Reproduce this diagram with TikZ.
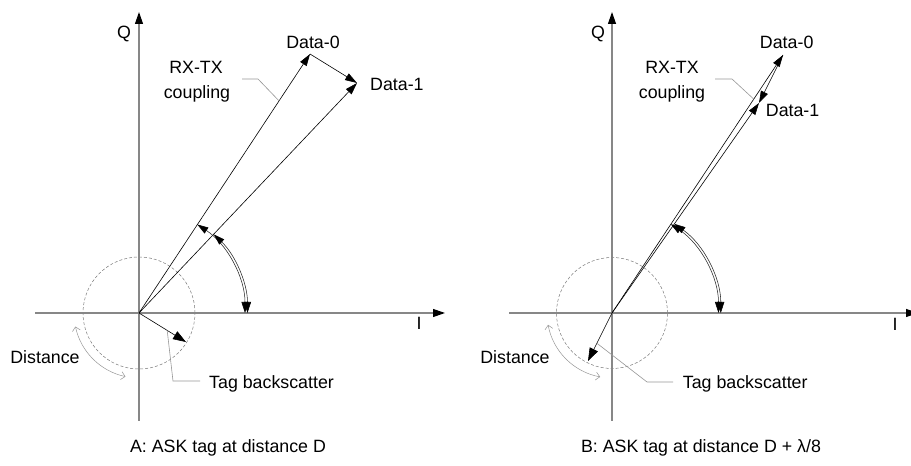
\documentclass[tikz,border=0pt]{standalone}
\usepackage{fontspec}
\setmainfont{Liberation Sans}
\usetikzlibrary{arrows.meta,calc}

\definecolor{axisgray}{RGB}{135,135,135}
\definecolor{leadgray}{RGB}{150,150,150}
\definecolor{circgray}{RGB}{120,120,120}

\tikzset{
  every node/.style={inner sep=0pt, font=\fontsize{17.8}{24}\selectfont},
  axisline/.style={draw=axisgray, line width=1.2pt,
    -{Triangle[length=12pt,width=8pt,color=black]}},
  vec/.style={draw=black, line width=0.6pt,
    -{Triangle[length=12pt,width=7.5pt]}},
  bsvec/.style={draw=black, line width=0.6pt,
    -{Triangle[length=13pt,width=9pt]}},
  anglearc/.style={draw=black!85, line width=0.55pt,
    {Triangle[length=11pt,width=7pt,color=black]}-{Triangle[length=11pt,width=7pt,color=black]}},
  distarc/.style={draw=leadgray, line width=0.5pt,
    {Straight Barb[length=4pt,width=8pt]}-{Straight Barb[length=4pt,width=8pt]}},
  leader/.style={draw=leadgray, line width=0.6pt},
  rangecircle/.style={draw=circgray, line width=0.5pt, dash pattern=on 3pt off 2pt},
}

\begin{document}
\begin{tikzpicture}[x=1pt,y=1pt]
\clip (0,0) rectangle (911,466);
\useasboundingbox (0,0) rectangle (911,466);

% ---------------- Panel A: tag at distance D ----------------
\begin{scope}[shift={(139,153)}]
  \coordinate (a-o)  at (0,0);
  \coordinate (a-qb) at (0,-108);
  \coordinate (a-qt) at (0,301);
  \coordinate (a-il) at (-104,0);
  \coordinate (a-ir) at (306,0);
  \coordinate (a-d0) at (171,259);
  \coordinate (a-d1) at (218,230);
  \coordinate (a-bs) at (47,-29);

  % range circle
  \draw[rangecircle] (a-o) circle[radius=56];

  % axes
  \draw[axisline] (a-qb) -- (a-qt);
  \draw[axisline] (a-il) -- (a-ir);
  \node[anchor=base] (a-q) at (-15,274.5) {Q};
  \node[anchor=base] (a-i) at (280,-17) {I};

  % phasors
  \draw[vec] (a-o) -- (a-d0);
  \draw[vec] (a-o) -- (a-d1);
  \draw[vec] (a-d0) -- (a-d1);
  \draw[bsvec] (a-o) -- (a-bs);

  % phase angle arcs
  \draw[anglearc] (a-o) ++(56.6:106) arc[start angle=56.6, end angle=0, radius=106];
  \draw[anglearc] (a-o) ++(46.4:108.5) arc[start angle=46.4, end angle=0, radius=108.5];

  % distance rotation
  \draw[distarc] (a-o) ++(192:65) arc[start angle=192, end angle=258, radius=65];

  % labels
  \node[anchor=base] (a-data0) at (174,264.7) {Data-0};
  \node[anchor=base west] (a-data1) at (231,222) {Data-1};
  \node[anchor=base] (a-rx) at (57,239) {RX-TX};
  \node[anchor=base] (a-cp) at (58,214) {coupling};
  \node[anchor=base] (a-dist) at (-94,-51) {Distance};
  \node[anchor=base west] (a-tag) at (70,-75.3) {Tag backscatter};

  % leaders
  \coordinate (a-rxs) at (103,234);
  \coordinate (a-rxk) at (119,234);
  \draw[leader] (a-rxs) -- (a-rxk) -- ($(a-o)!0.819!(a-d0)$);
  \coordinate (a-tgk) at (34,-68);
  \coordinate (a-tge) at (61,-68);
  \draw[leader] ($(a-o)!0.6!(a-bs)$) -- (a-tgk) -- (a-tge);
\end{scope}

% ---------------- Panel B: tag at distance D + lambda/8 ----------------
\begin{scope}[shift={(612,153)}]
  \coordinate (b-o)  at (0,0);
  \coordinate (b-qb) at (0,-108);
  \coordinate (b-qt) at (0,301);
  \coordinate (b-il) at (-103,0);
  \coordinate (b-ir) at (306,0);
  \coordinate (b-d0) at (171,258);
  \coordinate (b-d1) at (147,210);
  \coordinate (b-bs) at (-24,-48);

  \draw[rangecircle] (b-o) circle[radius=55.5];

  \draw[axisline] (b-qb) -- (b-qt);
  \draw[axisline] (b-il) -- (b-ir);
  \node[anchor=base] (b-q) at (-14,274.5) {Q};
  \node[anchor=base] (b-i) at (283,-18) {I};

  \draw[vec] (b-o) -- (b-d0);
  \draw[vec] (b-o) -- (b-d1);
  \draw[vec] (b-d0) -- (b-d1);
  \draw[bsvec] (b-o) -- (b-bs);

  \draw[anglearc] (b-o) ++(56.5:106.5) arc[start angle=56.5, end angle=0, radius=106.5];
  \draw[anglearc] (b-o) ++(55.0:108.8) arc[start angle=55.0, end angle=0, radius=108.8];

  \draw[distarc] (b-o) ++(190.5:65) arc[start angle=190.5, end angle=259.5, radius=65];

  \node[anchor=base] (b-data0) at (174.7,264.7) {Data-0};
  \node[anchor=base west] (b-data1) at (153.7,196.3) {Data-1};
  \node[anchor=base] (b-rx) at (60,239) {RX-TX};
  \node[anchor=base] (b-cp) at (60,214) {coupling};
  \node[anchor=base] (b-dist) at (-97,-51) {Distance};
  \node[anchor=base west] (b-tag) at (70.7,-75.3) {Tag backscatter};

  \coordinate (b-rxs) at (103,234);
  \coordinate (b-rxk) at (120,234);
  \draw[leader] (b-rxs) -- (b-rxk) -- ($(b-o)!0.829!(b-d0)$);
  \coordinate (b-tgk) at (35,-69);
  \coordinate (b-tge) at (61,-69);
  \draw[leader] ($(b-o)!0.63!(b-bs)$) -- (b-tgk) -- (b-tge);
\end{scope}

% captions
\node[anchor=base] (cap-a) at (228,13.3) {A: ASK tag at distance D};
\node[anchor=base] (cap-b) at (701,13.3) {B: ASK tag at distance D + λ/8};
\end{tikzpicture}
\end{document}
